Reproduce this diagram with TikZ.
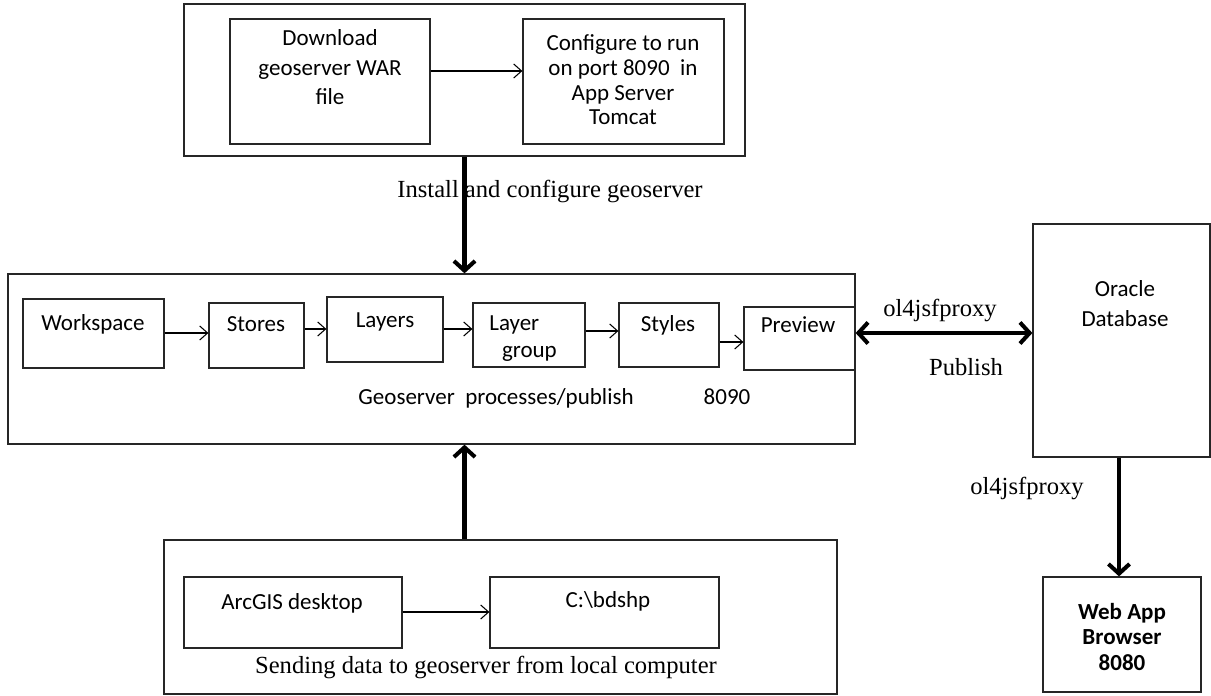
\documentclass[tikz,border=0pt]{standalone}
\usepackage{fontspec}
\setmainfont{Liberation Serif}
\newfontfamily\calibri{Carlito}
\usetikzlibrary{arrows.meta, fit, positioning}

\begin{document}
\begin{tikzpicture}[x=0.02cm, y=-0.02cm,
    box/.style={draw=black!85, line width=0.7pt, inner sep=0pt},
    txt/.style={font=\calibri\fontsize{13.1}{14.2}\selectfont, inner sep=0pt, anchor=base, align=center},
    lbl/.style={font=\fontsize{14}{16}\selectfont, inner sep=0pt, anchor=base},
    flow/.style={-{Straight Barb[length=4.5pt,width=8pt]}, line width=0.6pt},
    bigflow/.style={-{Straight Barb[length=5.5pt,width=12pt]}, line width=2.3pt}]
  \useasboundingbox (0,0) rectangle (1211,696);

  % install and configure (base = last line)
  \node[box, fit={(184,4) (745,156)}] (install) {};
  \node[box, fit={(230,19) (430,144)}] (download) {};
  \node[box, fit={(523,19) (724,144)}] (configure) {};
  \node[txt, font=\calibri\fontsize{13.1}{17}\selectfont] (downloadtxt) at (330,105) {Download\\geoserver WAR\\file};
  \node[txt] (configuretxt) at (623,125) {Configure to run\\on port 8090\ \ in\\App Server\\Tomcat};
  \draw[flow] (download.east |- 0,71) -- (configure.west |- 0,71);
  \node[lbl] (installtxt) at (550,197) {Install and configure geoserver};

  % geoserver
  \node[box, fit={(8,274) (855,444)}] (geo) {};
  \node[box, fit={(23,299) (164,368)}] (workspace) {};
  \node[box, fit={(209,303) (304,368)}] (stores) {};
  \node[box, fit={(327,297) (443,362)}] (layers) {};
  \node[box, fit={(473,303) (585,367)}] (layergroup) {};
  \node[box, fit={(619,303) (719,367)}] (styles) {};
  \node[box, fit={(744,307) (855,370)}] (preview) {};
  \node[txt] (workspacetxt) at (93,330) {Workspace};
  \node[txt] (storestxt) at (256,331) {Stores};
  \node[txt] (layerstxt) at (385,327) {Layers};
  \node[txt, anchor=base west, align=left, font=\calibri\fontsize{13.1}{15.3}\selectfont] (layergrouptxt) at (489,357) {Layer\\\hspace*{0.55em}group};
  \node[txt] (stylestxt) at (668,331) {Styles};
  \node[txt] (previewtxt) at (798,332) {Preview};
  \draw[flow] (workspace.east |- 0,333) -- (stores.west |- 0,333);
  \draw[flow] (stores.east |- 0,329) -- (layers.west |- 0,329);
  \draw[flow] (layers.east |- 0,329) -- (layergroup.west |- 0,329);
  \draw[flow] (layergroup.east |- 0,331) -- (styles.west |- 0,331);
  \draw[flow] (styles.east |- 0,342) -- (preview.west |- 0,342);
  \node[txt] (geotxt) at (496,404) {Geoserver\ \ processes/publish};
  \node[txt] (porttxt) at (727,404) {8090};
  \draw[bigflow] (install.south) -- (install.south |- geo.north);

  % oracle and web app
  \node[box, fit={(1033,224) (1210,457)}] (oracle) {};
  \node[txt, font=\calibri\fontsize{13.1}{17}\selectfont] (oracletxt) at (1125,326) {Oracle\\Database};
  \node[box, fit={(1043,577) (1201,692)}] (webapp) {};
  \node[txt, font=\calibri\bfseries\fontsize{13.1}{14.4}\selectfont] (webapptxt) at (1122,670) {Web App\\Browser\\8080};
  \draw[bigflow, {Straight Barb[length=5.5pt,width=12pt]}-{Straight Barb[length=5.5pt,width=12pt]}] (geo.east |- 0,333) -- (oracle.west |- 0,333);
  \node[lbl] (proxytxt) at (940,316) {ol4jsfproxy};
  \node[lbl] (publishtxt) at (966,375) {Publish};
  \draw[bigflow] (oracle.south -| 1119,0) -- (webapp.north -| 1119,0);
  \node[lbl] (proxytxtb) at (1027,494) {ol4jsfproxy};

  % local computer
  \node[box, fit={(164,540) (837,694)}] (local) {};
  \node[box, fit={(184,577) (402,648)}] (arcgis) {};
  \node[box, fit={(490,577) (719,648)}] (bdshp) {};
  \node[txt] (arcgistxt) at (292,609) {ArcGIS desktop};
  \node[txt] (bdshptxt) at (608,607) {C:\textbackslash bdshp};
  \draw[flow] (arcgis.east |- 0,612) -- (bdshp.west |- 0,612);
  \node[lbl] (localtxt) at (486,673) {Sending data to geoserver from local computer};
  \draw[bigflow] (local.north -| install.south) -- (geo.south -| install.south);
\end{tikzpicture}
\end{document}
